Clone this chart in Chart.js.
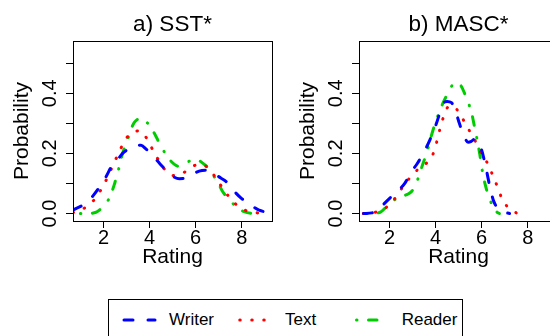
<!DOCTYPE html>
<html>
<head>
<meta charset="utf-8">
<script src="https://cdn.jsdelivr.net/npm/chart.js@4.4.1/dist/chart.umd.min.js"></script>
<style>
  html, body { margin: 0; padding: 0; background: #fff; }
  #wrap { position: relative; width: 550px; height: 336px; overflow: hidden; background: #fff; }
  #ca { position: absolute; left: 0; top: 0; }
  #cb { position: absolute; left: 275px; top: 0; }
  #legend { position: absolute; left: 108px; top: 299px; width: 355px; height: 60px; border: 1px solid #000; box-sizing: border-box; }
  .lt { position: absolute; font-family: 'Liberation Sans', Arial, sans-serif; font-size: 17px; color: #000; line-height: 20px; top: 10px; }
  #legsvg { position: absolute; left: 0; top: 0; }
</style>
</head>
<body>
<div id="wrap">
  <canvas id="ca" width="275" height="280"></canvas>
  <canvas id="cb" width="290" height="280"></canvas>
  <div id="legend">
    <svg id="legsvg" width="355" height="60"></svg>
    <span class="lt" id="lt0"></span>
    <span class="lt" id="lt1"></span>
    <span class="lt" id="lt2"></span>
  </div>
</div>
<script>
// ---------- data ----------
const seriesNames = ['Writer', 'Text', 'Reader'];
const panelTitles = ['a) SST*', 'b) MASC*'];
const xTickValues = [2, 4, 6, 8];
const yTickValues = [0, 0.1, 0.2, 0.3, 0.4, 0.5];
const yTickLabeled = [0, 0.2, 0.4];

// Panel a) SST*
const sstWriterX = [0.68, 1.25, 1.53, 1.9, 2.11, 2.4, 2.61, 2.83, 3.05, 3.26, 3.63, 3.84, 4.06, 4.42, 4.71, 5.0, 5.29, 5.58, 5.86, 6.15, 6.44, 6.73, 7.09, 7.31, 7.67, 7.96, 8.46, 8.75, 9.32];
const sstWriterY = [0.012, 0.035, 0.057, 0.096, 0.122, 0.163, 0.179, 0.200, 0.213, 0.224, 0.227, 0.215, 0.199, 0.168, 0.144, 0.124, 0.116, 0.118, 0.130, 0.141, 0.144, 0.135, 0.118, 0.107, 0.074, 0.052, 0.024, 0.011, 0.002];
const sstTextX = [0.68, 1.13, 1.51, 1.79, 2.04, 2.26, 2.44, 2.66, 2.87, 3.16, 3.57, 3.91, 4.13, 4.38, 4.64, 5.0, 5.46, 5.86, 6.29, 6.65, 6.94, 7.23, 7.52, 7.88, 8.32, 8.82];
const sstTextY = [0.003, 0.016, 0.038, 0.066, 0.100, 0.133, 0.166, 0.200, 0.235, 0.265, 0.275, 0.246, 0.213, 0.179, 0.148, 0.126, 0.135, 0.157, 0.163, 0.141, 0.111, 0.077, 0.049, 0.022, 0.006, 0.001];
const sstReaderX = [1.0, 1.22, 1.68, 1.97, 2.26, 2.47, 2.66, 2.83, 3.05, 3.19, 3.34, 3.70, 3.91, 4.20, 4.42, 4.71, 4.93, 5.26, 5.72, 6.0, 6.44, 6.73, 6.94, 7.16, 7.52, 7.74, 8.1, 8.6, 8.75];
const sstReaderY = [0.0, 0.0, 0.004, 0.022, 0.052, 0.096, 0.148, 0.200, 0.246, 0.279, 0.303, 0.318, 0.301, 0.268, 0.235, 0.196, 0.174, 0.157, 0.174, 0.179, 0.159, 0.130, 0.107, 0.074, 0.041, 0.024, 0.006, 0.0, 0.0];

// Panel b) MASC*
const mascWriterX = [0.87, 1.24, 1.5, 1.74, 2.03, 2.46, 2.68, 2.97, 3.18, 3.47, 3.76, 3.97, 4.19, 4.33, 4.5, 4.69, 4.84, 5.05, 5.25, 5.41, 5.55, 5.70, 5.99, 6.20, 6.35, 6.52, 6.85, 7.21];
const mascWriterY = [0.0, 0.002, 0.010, 0.030, 0.052, 0.082, 0.102, 0.141, 0.163, 0.200, 0.246, 0.285, 0.335, 0.365, 0.373, 0.369, 0.346, 0.296, 0.255, 0.237, 0.240, 0.248, 0.213, 0.146, 0.091, 0.041, 0.008, 0.0];
const mascTextX = [0.87, 1.38, 1.89, 2.17, 2.43, 2.72, 2.97, 3.33, 3.76, 3.95, 4.08, 4.19, 4.33, 4.51, 4.7, 4.87, 5.14, 5.40, 5.66, 5.88, 6.12, 6.31, 6.49, 6.68, 6.85, 7.10, 7.50];
const mascTextY = [0.0, 0.004, 0.022, 0.044, 0.071, 0.105, 0.124, 0.155, 0.179, 0.210, 0.247, 0.281, 0.318, 0.352, 0.358, 0.351, 0.320, 0.284, 0.251, 0.215, 0.183, 0.160, 0.124, 0.090, 0.055, 0.024, 0.002];
const mascReaderX = [1.0, 1.16, 1.6, 1.89, 2.17, 2.45, 2.75, 2.97, 3.21, 3.44, 3.61, 3.83, 4.0, 4.23, 4.52, 4.84, 5.06, 5.30, 5.56, 5.67, 5.92, 6.03, 6.16, 6.35, 6.67, 6.77];
const mascReaderY = [0.0, 0.0, 0.004, 0.024, 0.043, 0.055, 0.063, 0.074, 0.110, 0.163, 0.200, 0.262, 0.303, 0.351, 0.398, 0.434, 0.429, 0.392, 0.335, 0.296, 0.196, 0.141, 0.094, 0.047, 0.004, 0.0];

// ---------- styles ----------
const FONT = "'Liberation Sans', Arial, Helvetica, sans-serif";
const colors = ['rgb(0,0,255)', 'rgb(255,0,0)', 'rgb(0,205,0)'];
const dashes = [[9, 15], [0.5, 11.5], [0.5, 11.5, 8.5, 12.5]];
const X_MIN = 0.68, X_MAX = 9.31, Y_MIN = -0.025, Y_MAX = 0.574;

Chart.defaults.font.family = FONT;
Chart.defaults.color = '#000';

function pts(xs, ys) { return xs.map((x, i) => ({ x: x, y: ys[i] })); }

const boxPlugin = {
  id: 'box',
  afterDatasetsDraw(chart) {
    const { ctx, chartArea: a } = chart;
    ctx.save();
    ctx.strokeStyle = '#000';
    ctx.lineWidth = 1;
    ctx.setLineDash([]);
    const l = Math.round(a.left) + 0.5, t = Math.round(a.top) + 0.5;
    const r = Math.round(a.right) + 0.5, b = Math.round(a.bottom) + 0.5;
    ctx.strokeRect(l, t, r - l, b - t);
    ctx.restore();
  }
};

function makeChart(id, title, seriesXY, padLeft, padRight) {
  const datasets = seriesXY.map((s, i) => ({
    label: seriesNames[i],
    data: pts(s[0], s[1]),
    borderColor: colors[i],
    borderWidth: 3,
    borderDash: dashes[i],
    borderCapStyle: 'round',
    pointRadius: 0,
    fill: false,
    tension: 0.35,
    cubicInterpolationMode: 'monotone'
  }));
  return new Chart(document.getElementById(id), {
    type: 'line',
    data: { datasets: datasets },
    options: {
      responsive: false,
      animation: false,
      devicePixelRatio: 1,
      layout: { padding: { left: padLeft, right: padRight, top: 0, bottom: 0 } },
      plugins: {
        legend: { display: false },
        tooltip: { enabled: false },
        title: {
          display: true, text: title, fullSize: false, color: '#000',
          font: { family: FONT, size: 22.5, weight: 'normal', lineHeight: 1.2 },
          padding: { top: 11.5, bottom: 2.5 }
        }
      },
      scales: {
        x: {
          type: 'linear', min: X_MIN, max: X_MAX,
          afterBuildTicks: s => { s.ticks = xTickValues.map(v => ({ value: v })); },
          afterFit: s => { s.height = 59; },
          grid: { display: true, drawOnChartArea: false, drawTicks: true, tickLength: 7, color: '#000', lineWidth: 1 },
          border: { display: false },
          ticks: { autoSkip: false, maxRotation: 0, minRotation: 0, padding: 0.5, color: '#000',
                   font: { family: FONT, size: 20, lineHeight: 1 },
                   callback: v => String(v) },
          title: { display: true, text: 'Rating', color: '#000',
                   font: { family: FONT, size: 21, lineHeight: 1 },
                   padding: { top: 0, bottom: 12.3 } }
        },
        y: {
          type: 'linear', min: Y_MIN, max: Y_MAX,
          afterBuildTicks: s => { s.ticks = yTickValues.map(v => ({ value: v })); },
          afterFit: s => { s.width = 73; },
          grid: { display: true, drawOnChartArea: false, drawTicks: true, tickLength: 7, color: '#000', lineWidth: 1 },
          border: { display: false },
          ticks: { autoSkip: false, minRotation: 90, maxRotation: 90, crossAlign: 'center', padding: 1.3, color: '#000',
                   font: { family: FONT, size: 20, lineHeight: 1 },
                   callback: v => (yTickLabeled.some(t => Math.abs(t - v) < 1e-9) ? v.toFixed(1) : '') },
          title: { display: true, text: 'Probability', color: '#000',
                   font: { family: FONT, size: 21, lineHeight: 1 },
                   padding: { top: 12.2, bottom: 0 } }
        }
      }
    },
    plugins: [boxPlugin]
  });
}

makeChart('ca', panelTitles[0], [[sstWriterX, sstWriterY], [sstTextX, sstTextY], [sstReaderX, sstReaderY]], 0, 3);
makeChart('cb', panelTitles[1], [[mascWriterX, mascWriterY], [mascTextX, mascTextY], [mascReaderX, mascReaderY]], 11, 7);

// ---------- legend (HTML/SVG) ----------
const legendLine = [[15, 46], [130.75, 155.25], [247.5, 268]];   // sample line x-range inside legend box
const legendTextX = [60, 176, 292.7];
const svg = document.getElementById('legsvg');
const NS = 'http://www.w3.org/2000/svg';
seriesNames.forEach((name, i) => {
  const ln = document.createElementNS(NS, 'line');
  ln.setAttribute('x1', legendLine[i][0]);
  ln.setAttribute('x2', legendLine[i][1]);
  ln.setAttribute('y1', 20);
  ln.setAttribute('y2', 20);
  ln.setAttribute('stroke', colors[i]);
  ln.setAttribute('stroke-width', 3);
  ln.setAttribute('stroke-linecap', 'round');
  ln.setAttribute('stroke-dasharray', dashes[i].join(' '));
  svg.appendChild(ln);
  const t = document.getElementById('lt' + i);
  t.textContent = name;
  t.style.left = legendTextX[i] + 'px';
});
</script>
</body>
</html>
